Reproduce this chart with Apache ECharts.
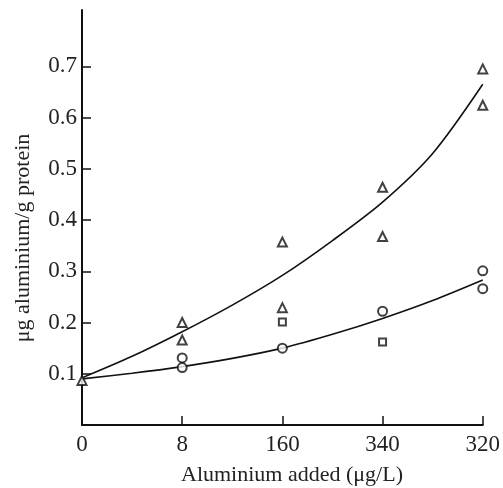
<!DOCTYPE html>
<html><head><meta charset="utf-8">
<script src="https://cdn.jsdelivr.net/npm/echarts@6/dist/echarts.min.js"></script>
<style>html,body{margin:0;padding:0;background:#fff}#c{width:503px;height:488px}</style>
</head><body><div id="c"></div>
<script>
const categories = ['0', '8', '160', '340', '320'];
const yTicks = [0.1, 0.2, 0.3, 0.4, 0.5, 0.6, 0.7];
const xTitle = 'Aluminium added (μg/L)';
const yTitle = 'μg aluminium/g protein';
// fitted curves at every half category step
const curveX = [0, 0.5, 1, 1.5, 2, 2.5, 3, 3.5, 4];
const upperCurve = [0.092, 0.134, 0.182, 0.234, 0.292, 0.360, 0.435, 0.530, 0.665];
const lowerCurve = [0.090, 0.101, 0.114, 0.130, 0.150, 0.177, 0.208, 0.243, 0.283];
// measured points [categoryIndex, value]
const trianglePts = [[0, 0.087], [1, 0.200], [1, 0.166], [2, 0.357], [2, 0.229], [3, 0.464], [3, 0.368], [4, 0.695], [4, 0.624]];
const circlePts = [[1, 0.131], [1, 0.112], [2, 0.150], [3, 0.222], [4, 0.301], [4, 0.266]];
const squarePts = [[2, 0.201], [3, 0.162]];

const font = '"Liberation Serif", "DejaVu Serif", serif';
const chart = echarts.init(document.getElementById('c'));
const mk = (sym, size, data) => ({ type: 'scatter', symbol: sym, symbolSize: size, data: data,
  itemStyle: { color: '#111', borderWidth: 1.6 }, z: 5 });
const pair = (xs, ys) => xs.map((x, i) => [x, ys[i]]);
chart.setOption({
  animation: false,
  backgroundColor: '#fff',
  grid: { left: 82, right: 16, top: 10, bottom: 63 },
  xAxis: {
    type: 'value', min: 0, max: categories.length - 1, interval: 1,
    axisLine: { lineStyle: { color: '#111', width: 2 } },
    axisTick: { inside: true, length: 9, lineStyle: { color: '#111', width: 1.5 } },
    axisLabel: { fontFamily: font, fontSize: 23, color: '#222', margin: 8,
      formatter: v => categories[Math.round(v)] },
    splitLine: { show: false }
  },
  yAxis: {
    type: 'value', min: 0, max: 0.81, interval: 0.1,
    axisLine: { show: true, lineStyle: { color: '#111', width: 2 } },
    axisTick: { show: true, inside: true, length: 9, customValues: yTicks, lineStyle: { color: '#111', width: 1.5 } },
    axisLabel: { fontFamily: font, fontSize: 23, color: '#222', margin: 5, customValues: yTicks,
      formatter: v => v.toFixed(1) },
    splitLine: { show: false }
  },
  graphic: [
    { type: 'text', x: 292, y: 475, style: { text: xTitle, font: '22px ' + font, fill: '#222',
      textAlign: 'center', textVerticalAlign: 'middle' } },
    { type: 'text', x: 23, y: 238, rotation: Math.PI / 2, style: { text: yTitle, font: '22px ' + font, fill: '#222',
      textAlign: 'center', textVerticalAlign: 'middle' } }
  ],
  series: [
    { type: 'line', data: pair(curveX, upperCurve), smooth: 0.3, symbol: 'none', lineStyle: { color: '#111', width: 1.6 } },
    { type: 'line', data: pair(curveX, lowerCurve), smooth: 0.3, symbol: 'none', lineStyle: { color: '#111', width: 1.6 } },
    mk('emptyTriangle', 9, trianglePts),
    mk('emptyCircle', 9, circlePts),
    mk('emptyRect', 7, squarePts)
  ]
});
</script></body></html>
